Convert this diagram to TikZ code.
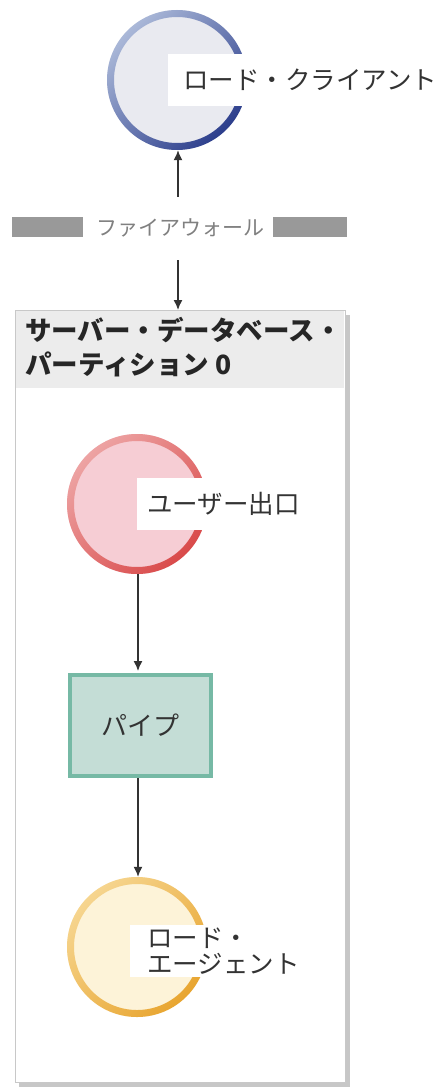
\documentclass[tikz,border=0pt]{standalone}
\usepackage{fontspec}
\newfontfamily\jp{Noto Sans CJK JP}
\usetikzlibrary{arrows.meta}
\definecolor{cliFill}{HTML}{E9EAF0}
\definecolor{cliL}{HTML}{AAB8D8}
\definecolor{cliD}{HTML}{2C3E8C}
\definecolor{uFill}{HTML}{F6CDD4}
\definecolor{uL}{HTML}{EDA3A3}
\definecolor{uD}{HTML}{D94A4A}
\definecolor{aFill}{HTML}{FDF3D8}
\definecolor{aL}{HTML}{F6D58F}
\definecolor{aD}{HTML}{E8A530}
\definecolor{pipeF}{HTML}{C4DDD6}
\definecolor{pipeB}{HTML}{76B9A5}
\definecolor{fwBar}{HTML}{999999}
\definecolor{fwText}{HTML}{808080}
\definecolor{boxB}{HTML}{C8C8C8}
\definecolor{hdr}{HTML}{ECECEC}
\definecolor{txt}{HTML}{333333}
\begin{document}
\begin{tikzpicture}[x=1pt,y=-1pt,
  disc/.style={circle, minimum size=140pt, inner sep=0pt, draw=none},
  lbl/.style={fill=white, anchor=west, inner xsep=12pt, inner ysep=0pt, minimum height=52pt, align=left, text=txt, font=\jp\fontsize{25.5}{26}\selectfont},
  arr/.style={-{Latex[length=10pt,width=9pt]}, line width=1.4pt, draw=black!80}]
\useasboundingbox (0,0) rectangle (447,1091);
% client
\node[disc, fill=cliFill] (client) at (177,80) {};
\shade[even odd rule, left color=cliL, right color=cliD, shading angle=45] (client.center) circle (70pt) (client.center) circle (63pt);
\node[lbl, inner xsep=15pt] (clientlbl) at (168,80) {ロード・クライアント};
% firewall
\fill[fwBar] (12,217) rectangle (83,237);
\fill[fwBar] (273,217) rectangle (347,237);
\node[text=fwText, font=\jp\fontsize{21}{22}\selectfont, inner sep=0pt] (fw) at (180,228) {ファイアウォール};
\coordinate (fwtop) at (178,197);
\coordinate (fwbot) at (178,260);
% partition box
\fill[black!22] (19,315) rectangle (350,1087);
\node[draw=boxB, line width=1.2pt, fill=white, minimum width=330pt, minimum height=772pt, inner sep=0pt, anchor=north west] (part) at (15,310) {};
\fill[hdr] (15.6,310.6) rectangle (344.4,388);
\node[anchor=north west, align=left, inner sep=0pt, text=black!85, font=\jp\bfseries\fontsize{26.5}{34}\selectfont] (hdrtxt) at (25,317) {サーバー・データベース・\\パーティション 0};
\draw[arr] (fwtop) -- (client.south -| fwtop);
\draw[arr] (fwbot) -- (fwbot |- part.north);
% user exit
\node[disc, fill=uFill] (uexit) at (137,504) {};
\shade[even odd rule, left color=uL, right color=uD, shading angle=45] (uexit.center) circle (70pt) (uexit.center) circle (63pt);
\node[lbl, inner xsep=10pt] (uexitlbl) at (137,504) {ユーザー出口};
% pipe
\node[draw=pipeB, line width=4pt, fill=pipeF, minimum width=141pt, minimum height=101pt, text=txt, font=\jp\fontsize{26}{28}\selectfont] (pipe) at (140.5,725.5) {パイプ};
% agent
\node[disc, fill=aFill] (agent) at (137,947) {};
\shade[even odd rule, left color=aL, right color=aD, shading angle=45] (agent.center) circle (70pt) (agent.center) circle (63pt);
\node[lbl, inner xsep=17pt] (agentlbl) at (130,951) {ロード・\\エージェント};
% connectors
\draw[arr, shorten >=2pt] (uexit.south -| 138,0) -- (138,0 |- pipe.north);
\draw[arr] (138,0 |- pipe.south) -- (138,0 |- agent.north);
\end{tikzpicture}
\end{document}
